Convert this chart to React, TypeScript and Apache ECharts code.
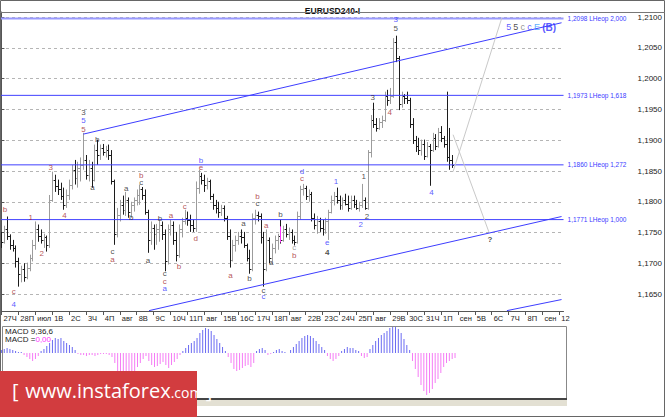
import React, { useEffect, useRef } from 'react';
import * as echarts from 'echarts';

const dayLabels = ['27Ч','28П','июл','1В','2С','3Ч','4П','авг','8В','9С','10Ч','11П','авг','15В','16С','17Ч','18П','авг','22В','23С','24Ч','25П','авг','29В','30С','31Ч','1П','сен','5В','6С','7Ч','8П','сен','12'];

const opens = [11742,11735,11755,11745,11730,11725,11703,11682,11690,11677,11693,11709,11730,11755,11745,11738,11742,11730,11803,11836,11826,11820,11810,11795,11811,11828,11852,11839,11855,11860,11868,11844,11855,11836,11884,11876,11888,11881,11884,11876,11833,11747,11779,11795,11787,11803,11784,11795,11803,11811,11820,11811,11784,11738,11758,11747,11755,11763,11747,11703,11755,11763,11738,11714,11755,11768,11774,11771,11763,11758,11823,11842,11836,11828,11833,11810,11795,11790,11784,11790,11774,11745,11706,11730,11738,11745,11742,11730,11709,11690,11774,11779,11777,11742,11690,11738,11709,11725,11738,11745,11738,11755,11747,11751,11738,11735,11777,11820,11823,11810,11813,11774,11763,11768,11758,11755,11768,11784,11803,11810,11803,11794,11803,11797,11790,11803,11797,11790,11794,11803,11790,11881,11933,11927,11920,11930,11933,11972,11966,11972,12060,12034,11959,11972,11969,11966,11927,11901,11891,11884,11894,11875,11891,11884,11904,11891,11914,11904,11894,11872,11868];
const highs = [11751,11761,11776,11747,11738,11729,11709,11696,11700,11701,11714,11738,11768,11763,11755,11748,11745,11811,11849,11844,11836,11831,11823,11820,11836,11860,11868,11865,11872,11912,11876,11868,11865,11893,11901,11893,11894,11891,11893,11884,11836,11790,11803,11810,11816,11807,11800,11807,11820,11828,11824,11820,11787,11768,11763,11764,11771,11768,11755,11763,11771,11768,11751,11763,11774,11787,11784,11779,11771,11833,11852,11847,11844,11839,11836,11813,11803,11800,11795,11794,11777,11755,11738,11745,11751,11755,11751,11732,11722,11781,11787,11784,11781,11751,11755,11742,11732,11745,11748,11771,11761,11764,11758,11755,11745,11784,11826,11829,11826,11820,11816,11781,11777,11774,11771,11774,11787,11810,11816,11823,11810,11807,11813,11810,11810,11810,11803,11800,11829,11807,11884,11941,11961,11936,11936,11940,11979,11982,11985,12066,12070,12037,11979,11975,11979,11969,11936,11907,11904,11901,11901,11897,11894,11912,11910,11920,11923,11907,11979,11920,11876];
const lows = [11725,11732,11738,11722,11719,11693,11662,11669,11670,11674,11687,11703,11722,11735,11732,11725,11719,11725,11800,11816,11811,11803,11787,11790,11803,11820,11828,11823,11833,11852,11836,11833,11823,11833,11860,11868,11875,11872,11868,11828,11730,11742,11768,11779,11777,11774,11774,11784,11794,11795,11803,11779,11717,11730,11722,11730,11735,11738,11687,11698,11745,11730,11703,11709,11742,11763,11761,11751,11751,11751,11813,11828,11816,11820,11803,11787,11781,11774,11777,11768,11738,11693,11703,11719,11730,11732,11725,11703,11683,11687,11763,11768,11732,11662,11687,11700,11703,11716,11722,11732,11735,11742,11738,11732,11729,11732,11771,11810,11803,11800,11768,11755,11748,11751,11745,11748,11738,11781,11794,11797,11787,11787,11794,11784,11787,11790,11787,11784,11790,11787,11787,11872,11920,11914,11917,11920,11930,11956,11959,11969,12027,11949,11953,11959,11959,11920,11894,11881,11876,11875,11868,11872,11826,11881,11884,11888,11897,11888,11865,11852,11855];
const closes = [11735,11755,11745,11730,11725,11703,11682,11690,11677,11693,11709,11730,11755,11745,11738,11742,11730,11803,11836,11826,11820,11810,11795,11811,11828,11852,11839,11855,11860,11868,11844,11855,11836,11884,11876,11888,11881,11884,11876,11833,11747,11779,11795,11787,11803,11784,11795,11803,11811,11820,11811,11784,11738,11758,11747,11755,11763,11747,11703,11755,11763,11738,11714,11755,11768,11774,11771,11763,11758,11823,11842,11836,11828,11833,11810,11795,11790,11784,11790,11774,11745,11706,11730,11738,11745,11742,11730,11709,11690,11774,11779,11777,11742,11690,11738,11709,11725,11738,11745,11738,11755,11747,11751,11738,11735,11777,11820,11823,11810,11813,11774,11763,11768,11758,11755,11768,11784,11803,11810,11803,11794,11803,11797,11790,11803,11797,11790,11794,11803,11790,11881,11933,11927,11920,11930,11933,11972,11966,11972,12060,12034,11959,11972,11969,11966,11927,11901,11891,11884,11894,11875,11891,11884,11904,11891,11914,11904,11894,11872,11868,11860];

const macdHist = [3,4,5,4,3,2,1,1,-2,-4,-6,-8,-6,-3,2,4,7,10,13,15,14,15,12,10,8,6,3,-1,-2,-2,-3,-2,-2,-3,-2,-1,-1,-1,-2,-4,-10,-18,-22,-24,-25,-22,-20,-18,-14,-10,-6,-3,-8,-12,-14,-13,-11,-9,-12,-15,-12,-9,-6,-2,2,5,8,10,12,15,20,23,25,24,22,18,14,10,6,2,-4,-10,-16,-18,-17,-15,-13,-12,-14,-10,2,4,5,3,-2,-1,1,3,4,2,1,0,3,6,9,12,15,17,18,17,15,12,9,6,3,-3,-6,-8,-6,-3,2,4,6,5,5,3,2,-3,-5,-4,4,8,12,15,18,20,22,25,28,27,24,20,14,8,3,-8,-16,-24,-32,-38,-42,-40,-36,-30,-26,-20,-14,-10,-8,-6,-5];

const levelPrices = [1.2098, 1.1973, 1.186, 1.1771];
const levelTexts = ['1,2098 LHeop 2,000', '1,1973 LHeop 1,618', '1,1860 LHeop 1,272', '1,1771 LHeop 1,000'];
const currentPrice = 1.186;

// [x1, y1, x2, y2] in bar index / price
const channelLines = [
  [29.1, 1.1910, 198.8, 1.2091],
  [52.4, 1.1623, 198.8, 1.1776],
  [179.4, 1.1623, 198.8, 1.1641],
];
const forecastLines = [
  [160.3, 1.1909, 173.0, 1.1751],
  [160.3, 1.1849, 177.6, 1.2099],
];
const markerLine = [99, 1.1760, 99, 1.1734];

const R = '#a3282b';
const B = '#2f2fff';
const K = '#222222';
const G = '#8a8a8a';

// [text, bar index, price, color]
const waveLabels: [string, number, number, string][] = [
  ['b', 1.3, 1.1787, R], ['c', 4.4, 1.1654, R], ['4', 4.4, 1.1633, B],
  ['1', 10.4, 1.1774, R], ['2', 14.3, 1.1716, R], ['3', 17.5, 1.1855, R], ['4', 22.4, 1.1777, R],
  ['5', 29.1, 1.1917, R], ['5', 29.1, 1.1932, B], ['3', 29.1, 1.1945, K],
  ['a', 32.3, 1.1823, K], ['b', 34, 1.1902, K], ['c', 39.4, 1.1719, K], ['a', 39.4, 1.1706, R],
  ['a', 44.3, 1.1821, K], ['b', 46.1, 1.1774, K], ['c', 49.6, 1.1831, K], ['b', 49.6, 1.1842, R],
  ['a', 52, 1.1704, K], ['b', 56.3, 1.1773, K], ['c', 58, 1.1683, K], ['c', 58, 1.1670, R], ['a', 58, 1.1659, B],
  ['a', 60.2, 1.1777, R], ['b', 63, 1.1695, R], ['c', 65.1, 1.1792, R], ['d', 69, 1.1740, R],
  ['e', 70.8, 1.1855, R], ['b', 70.8, 1.1867, B], ['a', 81.3, 1.1680, R], ['a', 85.9, 1.1764, K],
  ['b', 88, 1.1675, K], ['c', 90.9, 1.1797, K], ['b', 90.9, 1.1808, R], ['c', 93, 1.1656, K], ['c', 93, 1.1646, B],
  ['a', 94, 1.1761, R], ['a', 95.8, 1.1701, K], ['b', 99, 1.1779, K], ['c', 103.9, 1.1725, G], ['b', 103.9, 1.1713, R],
  ['d', 106.7, 1.1849, B], ['c', 106.7, 1.1837, R], ['e', 115.6, 1.1734, B], ['4', 115.6, 1.1717, K],
  ['1', 118.7, 1.1833, B], ['2', 127.5, 1.1763, B], ['1', 128.6, 1.1841, K], ['2', 129.7, 1.1776, K],
  ['3', 131.8, 1.1969, K], ['4', 137.8, 1.1945, R], ['5', 139.9, 1.2081, K], ['3', 139.9, 1.2097, B],
  ['4', 152.6, 1.1815, B], ['?', 173.4, 1.1738, K],
];
const targetLabel = { x: 188, price: 1.2084 };

const SLOTS = 200;
const FONT = '"Liberation Sans", Arial, sans-serif';

function blue() {
  return { color: '#3d3dff', width: 1, type: 'solid', opacity: 1 };
}

function buildOption() {
  const ohlc = opens.map((o, i) => [i, o / 10000, highs[i] / 10000, lows[i] / 10000, closes[i] / 10000]);
  const slotLabels = Array.from({ length: SLOTS }, (_, i) => (i % 6 === 0 ? dayLabels[i / 6] || '' : ''));

  const markData: any[] = [];
  markData.push({
    yAxis: currentPrice,
    lineStyle: { color: '#3d3dff', width: 1, type: 'solid', opacity: 0 },
    label: { show: true, position: 'end', distance: 63, formatter: '1,1860', backgroundColor: '#ffff00', color: '#000', padding: [1, 2, 0, 2], fontSize: 8, fontFamily: FONT },
  });
  channelLines.forEach((l) => {
    markData.push([{ coord: [l[0], l[1]], lineStyle: blue() }, { coord: [l[2], l[3]] }]);
  });
  forecastLines.forEach((l) => {
    markData.push([{ coord: [l[0], l[1]], lineStyle: { color: '#c9c9c9', width: 1, type: 'solid' } }, { coord: [l[2], l[3]] }]);
  });
  markData.push([{ coord: [markerLine[0], markerLine[1]], lineStyle: { color: '#ff33ff', width: 1, type: 'solid' } }, { coord: [markerLine[2], markerLine[3]] }]);

  const levelSeries = levelPrices.map((p, k) => ({
    type: 'line', xAxisIndex: 0, yAxisIndex: 0, silent: true, symbol: 'none',
    data: [[-0.5, p], [SLOTS - 0.5, p]],
    lineStyle: k === 0 ? { color: '#9a9aff', width: 2 } : { color: '#4040ff', width: 1 },
    endLabel: { show: true, formatter: levelTexts[k], color: '#3b3bff', fontSize: 6.5, fontFamily: FONT, distance: 4 },
    z: 4,
  }));

  const labelData: any[] = waveLabels.map(([t, x, p, c]) => ({
    value: [x, p],
    label: { formatter: t, color: c, fontWeight: t === '?' || (t === '4' && c === K) ? 'bold' : 'normal' },
  }));
  labelData.push({
    value: [targetLabel.x, targetLabel.price],
    label: {
      formatter: '{a|5} {b|5} {c|c} {d|c} {e|E} {f|(B)}',
      rich: {
        a: { color: '#2f2fff', fontSize: 9, fontFamily: FONT },
        b: { color: '#222', fontSize: 9, fontFamily: FONT },
        c: { color: '#777', fontSize: 9, fontFamily: FONT },
        d: { color: '#2f2fff', fontSize: 9, fontFamily: FONT },
        e: { color: '#3399ff', fontSize: 9, fontFamily: FONT },
        f: { color: '#2f2fff', fontSize: 10, fontWeight: 'bold', fontFamily: FONT },
      },
    },
  });

  return {
    animation: false,
    backgroundColor: '#ffffff',
    title: {
      text: 'EURUSD240-I', left: 'center', top: 1,
      textStyle: { fontSize: 8.5, fontWeight: 'bold', color: '#111', fontFamily: FONT },
    },
    grid: [
      { left: 0, width: 567, top: 12, height: 299, show: false },
      { left: 0, width: 567, top: 326, height: 72, show: false },
    ],
    xAxis: [
      { type: 'value', gridIndex: 0, min: -0.5, max: SLOTS - 0.5, show: false },
      {
        type: 'category', gridIndex: 0, data: slotLabels, position: 'bottom', boundaryGap: true,
        axisLine: { show: true, lineStyle: { color: '#555' } },
        axisTick: { show: true, alignWithLabel: true, interval: (i: number) => i % 6 === 0, length: 4, lineStyle: { color: '#555' } },
        axisLabel: { interval: (i: number) => i % 6 === 0, align: 'left', fontSize: 7.5, margin: 3, color: '#222', fontFamily: FONT, padding: [0, 0, 0, 2] },
        splitLine: { show: false },
      },
      { type: 'category', gridIndex: 1, data: slotLabels.map((_, i) => i), show: false, boundaryGap: true },
    ],
    yAxis: [
      {
        type: 'value', gridIndex: 0, min: 1.16224, max: 1.21085, splitNumber: 10, minInterval: 0.005, maxInterval: 0.005,
        position: 'right', offset: 71, scale: true,
        axisLine: { show: true, lineStyle: { color: '#555' } },
        axisTick: { show: true, length: 3, lineStyle: { color: '#555' } },
        axisLabel: {
          showMinLabel: false, showMaxLabel: false, fontSize: 8, margin: 3, color: '#222', fontFamily: FONT,
          formatter: (v: number) => v.toFixed(4).replace('.', ','),
        },
        splitLine: { show: true, lineStyle: { color: '#b5b5b5', type: [3, 3], width: 1 } },
      },
      { type: 'value', gridIndex: 1, min: -45, max: 27, show: false, splitLine: { show: false } },
    ],
    series: [
      ...levelSeries,
      {
        type: 'custom', xAxisIndex: 0, yAxisIndex: 0, clip: true,
        data: ohlc,
        encode: { x: 0, y: [1, 2, 3, 4] },
        renderItem: (_params: any, api: any) => {
          const i = api.value(0);
          const o = api.coord([i, api.value(1)]);
          const h = api.coord([i, api.value(2)]);
          const l = api.coord([i, api.value(3)]);
          const c = api.coord([i, api.value(4)]);
          const x = Math.round(o[0]) + 0.5;
          const up = api.value(4) >= api.value(1);
          const color = up ? '#9c9c9c' : '#1c1c1c';
          const oy = Math.round(o[1]) + 0.5;
          const cy = Math.round(c[1]) + 0.5;
          return {
            type: 'group',
            children: [
              { type: 'line', shape: { x1: x, y1: h[1], x2: x, y2: l[1] }, style: { stroke: color, lineWidth: 1 } },
              { type: 'line', shape: { x1: x - 1.5, y1: oy, x2: x, y2: oy }, style: { stroke: color, lineWidth: 1 } },
              { type: 'line', shape: { x1: x, y1: cy, x2: x + 1.5, y2: cy }, style: { stroke: color, lineWidth: 1 } },
            ],
          };
        },
        z: 3,
      },
      {
        type: 'scatter', xAxisIndex: 0, yAxisIndex: 0, symbolSize: 1, silent: true,
        itemStyle: { color: 'transparent' },
        label: { show: true, position: 'inside', fontSize: 8, lineHeight: 7, fontFamily: FONT },
        data: labelData,
        markLine: {
          silent: true, symbol: ['none', 'none'], animation: false, precision: 6,
          lineStyle: { color: '#3d3dff', width: 1, type: 'solid' },
          label: { show: false },
          data: markData,
        },
        z: 5,
      },
      {
        type: 'bar', xAxisIndex: 2, yAxisIndex: 1, barWidth: 1, silent: true,
        data: macdHist.map((v) => ({ value: v, itemStyle: { color: v >= 0 ? '#6b6bf2' : '#f57cf5' } })),
      },
    ],
    graphic: [
      { type: 'rect', shape: { x: 0.5, y: 0.5, width: 664, height: 416 }, style: { fill: 'none', stroke: '#666', lineWidth: 1 }, z: 100, silent: true },
      { type: 'line', shape: { x1: 0, y1: 12.5, x2: 665, y2: 12.5 }, style: { stroke: '#777', lineWidth: 1 }, z: 100, silent: true },
      { type: 'rect', shape: { x: 2.5, y: 326.5, width: 564, height: 72 }, style: { fill: 'none', stroke: '#888', lineWidth: 1 }, z: 90, silent: true },
      { type: 'line', shape: { x1: 2, y1: 399, x2: 567, y2: 399 }, style: { stroke: '#444', lineWidth: 2 }, z: 91, silent: true },
      { type: 'rect', shape: { x: 197, y: 400, width: 370, height: 6 }, style: { fill: '#e3e0d3' }, z: 90, silent: true },
      { type: 'text', x: 5, y: 327, style: { text: 'MACD 9,36,6', fill: '#222', font: `8px ${FONT}` }, z: 95, silent: true },
      {
        type: 'text', x: 5, y: 335,
        style: { text: '{a|MACD =}{b|0,00}', rich: { a: { fill: '#222', fontSize: 8, fontFamily: FONT }, b: { fill: '#ff33ff', fontSize: 8, fontFamily: FONT } } },
        z: 95, silent: true,
      },
      { type: 'rect', shape: { x: 0, y: 371, width: 197, height: 46 }, style: { fill: '#d23c3f' }, z: 110, silent: true },
      {
        type: 'text', x: 12, y: 380, z: 111, silent: true,
        style: {
          text: '{a|[}  {b|www.instaforex}{c|.com} {a|]}',
          rich: {
            a: { fill: '#ffffff', fontSize: 20, fontFamily: '"Open Sans", sans-serif' },
            b: { fill: '#ffffff', fontSize: 20, fontFamily: '"Open Sans", sans-serif' },
            c: { fill: '#ffffff', fontSize: 14, fontFamily: '"Open Sans", sans-serif', padding: [4, 0, 0, 0] },
          },
        },
      },
    ],
  };
}

export default function App() {
  const ref = useRef<HTMLDivElement>(null);
  useEffect(() => {
    document.body.style.margin = '0';
    const chart = echarts.init(ref.current!, null, { renderer: 'svg' });
    chart.setOption(buildOption() as any);
    return () => chart.dispose();
  }, []);
  return <div ref={ref} style={{ width: 665, height: 417 }} />;
}
